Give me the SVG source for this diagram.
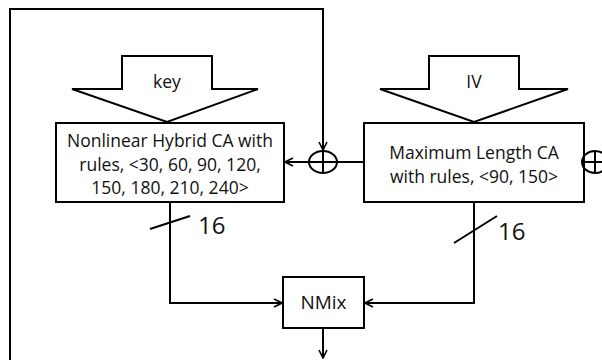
<svg xmlns="http://www.w3.org/2000/svg" width="602" height="360" viewBox="0 0 602 360">
<style>
.s{fill:none;stroke:#000;stroke-width:2}
.b{fill:#fff;stroke:#000;stroke-width:2}
.t{font-family:"Open Sans","Liberation Sans",sans-serif;font-size:17.5px;fill:#111;text-anchor:middle}
.n{font-family:"Open Sans","Liberation Sans",sans-serif;font-size:24px;fill:#111}
</style>
<defs>
<marker id="a" viewBox="0 0 10 10" refX="9" refY="5" markerWidth="10" markerHeight="10" markerUnits="userSpaceOnUse" orient="auto">
<path d="M1,1 L9,5 L1,9" fill="none" stroke="#000" stroke-width="1.6"/>
</marker>
</defs>
<rect width="602" height="360" fill="#fff"/>
<g id="connectors">
<path class="s" d="M10,360 V9 H323 V150" marker-end="url(#a)"/>
<path class="s" d="M364,162 H337"/>
<path class="s" d="M309,162 H285" marker-end="url(#a)"/>
<path class="s" d="M170,202 V303 H282" marker-end="url(#a)"/>
<path class="s" d="M474,202 V303 H365" marker-end="url(#a)"/>
<path class="s" d="M323,328 V358" marker-end="url(#a)"/>
<path class="s" d="M150,229 L190,216"/>
<path class="s" d="M454,243 L497,216"/>
<text class="n" x="198" y="234">16</text>
<text class="n" x="498" y="240">16</text>
</g>
<g id="key">
<path class="b" d="M122,56 H212 V89 H258 L167,122 L72,89 H122 Z"/>
<text class="t" x="167" y="88">key</text>
</g>
<g id="iv">
<path class="b" d="M429,56 H519 V89 H568 L474,122 L380,89 H429 Z"/>
<text class="t" x="474" y="88">IV</text>
</g>
<g id="nlca">
<rect class="b" x="56" y="123" width="228" height="79"/>
<text class="t" x="170" y="147">Nonlinear Hybrid CA with</text>
<text class="t" x="170" y="171">rules, &lt;30, 60, 90, 120,</text>
<text class="t" x="170" y="194">150, 180, 210, 240&gt;</text>
</g>
<g id="mlca">
<rect class="b" x="364" y="123" width="220" height="79"/>
<text class="t" x="474" y="159">Maximum Length CA</text>
<text class="t" x="474" y="183">with rules, &lt;90, 150&gt;</text>
</g>
<g id="xor1">
<ellipse class="s" cx="323" cy="162" rx="14" ry="11"/>
<path class="s" d="M309,162 H337 M323,151 V173"/>
</g>
<g id="xor2">
<ellipse class="s" cx="595" cy="162" rx="13" ry="11"/>
<path class="s" d="M582,162 H608 M595,151 V173"/>
</g>
<g id="nmix">
<rect class="b" x="283" y="277" width="81" height="51"/>
<text class="t" x="323.5" y="309" style="font-size:19px">NMix</text>
</g>
</svg>
